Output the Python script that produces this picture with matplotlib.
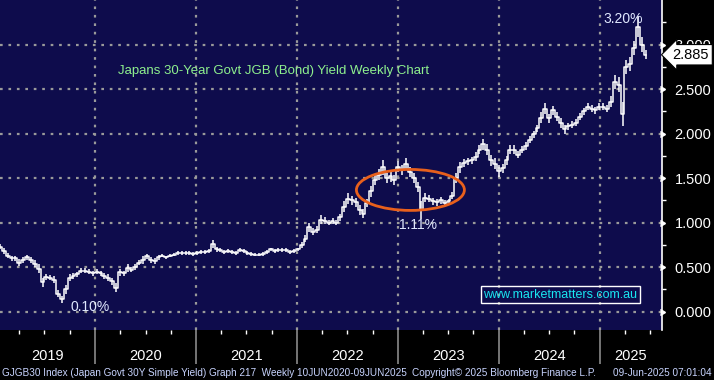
import numpy as np
import pandas as pd
import matplotlib
matplotlib.use("Agg")
import matplotlib.pyplot as plt
import matplotlib.dates as mdates
from matplotlib.patches import Ellipse
from matplotlib.transforms import blended_transform_factory

plt.rcParams["font.family"] = ["Liberation Sans", "DejaVu Sans"]

# fortnightly closes of the 30Y JGB yield
start = "2019-01-21"
yields = [
    0.73, 0.68, 0.63, 0.60, 0.60, 0.55, 0.58, 0.61, 0.58, 0.54,
    0.48, 0.33, 0.39, 0.38, 0.36, 0.20, 0.14, 0.25, 0.38, 0.40,
    0.42, 0.46, 0.46, 0.45, 0.43, 0.45, 0.43, 0.40, 0.38, 0.34,
    0.27, 0.44, 0.43, 0.49, 0.47, 0.50, 0.55, 0.58, 0.62, 0.58,
    0.57, 0.61, 0.63, 0.61, 0.63, 0.64, 0.66, 0.66, 0.66, 0.66,
    0.65, 0.66, 0.67, 0.67, 0.68, 0.76, 0.70, 0.69, 0.67, 0.68,
    0.67, 0.66, 0.69, 0.68, 0.66, 0.65, 0.64, 0.64, 0.65, 0.67,
    0.70, 0.68, 0.69, 0.69, 0.69, 0.67, 0.68, 0.70, 0.75, 0.82,
    0.95, 0.90, 0.92, 1.03, 1.02, 1.00, 1.02, 1.00, 1.06, 1.18,
    1.27, 1.25, 1.23, 1.14, 1.10, 1.22, 1.35, 1.48, 1.54, 1.62,
    1.50, 1.52, 1.48, 1.63, 1.59, 1.66, 1.57, 1.50, 1.40, 1.14,
    1.28, 1.27, 1.24, 1.23, 1.25, 1.22, 1.24, 1.30, 1.50, 1.62,
    1.67, 1.69, 1.70, 1.74, 1.82, 1.88, 1.82, 1.70, 1.66, 1.58,
    1.61, 1.70, 1.82, 1.82, 1.76, 1.82, 1.86, 1.93, 1.99, 2.06,
    2.18, 2.28, 2.17, 2.26, 2.19, 2.12, 2.05, 2.08, 2.10, 2.12,
    2.19, 2.25, 2.30, 2.28, 2.26, 2.30, 2.30, 2.28, 2.36, 2.58,
    2.55, 2.22, 2.75, 2.78, 2.96, 3.20, 3.00, 2.885,
]
# half of each bar's high-low range, in basis points
swing_bp = [
    3, 3, 3, 3, 3, 4, 3, 3, 3, 4,
    5, 5, 3, 3, 4, 4, 4, 5, 4, 3,
    3, 3, 3, 3, 3, 3, 3, 3, 4, 4,
    5, 4, 3, 4, 3, 3, 3, 4, 3, 3,
    3, 3, 2, 2, 2, 2, 2, 2, 2, 2,
    2, 2, 2, 2, 2, 4, 3, 2, 2, 2,
    2, 2, 2, 2, 2, 2, 2, 2, 2, 2,
    2, 2, 2, 2, 2, 2, 2, 2, 3, 4,
    5, 4, 4, 5, 4, 3, 3, 3, 4, 6,
    6, 5, 5, 6, 5, 5, 6, 6, 6, 8,
    6, 6, 6, 6, 6, 6, 6, 6, 6, 10,
    5, 4, 4, 4, 4, 3, 3, 4, 6, 6,
    4, 4, 4, 5, 5, 6, 6, 6, 6, 7,
    5, 5, 5, 5, 4, 4, 4, 4, 4, 4,
    6, 6, 5, 5, 5, 6, 5, 4, 4, 4,
    4, 4, 4, 4, 4, 4, 4, 4, 6, 8,
    8, 14, 8, 8, 8, 12, 8, 5,
]
dates = pd.date_range(start, periods=len(yields), freq="14D")

years = ["2019", "2020", "2021", "2022", "2023", "2024", "2025"]
yticks = [0.0, 0.5, 1.0, 1.5, 2.0, 2.5, 3.0]
last_val = 2.885

bg = "#0e0c4c"
fig = plt.figure(figsize=(7.14, 3.80), dpi=100, facecolor="black")
ax = fig.add_axes([0, 50 / 380, 662 / 714, 330 / 380], facecolor=bg)

yv = np.array(yields)
sw = np.array(swing_bp) / 100
ax.plot(dates, yv, color="white", lw=1.1, drawstyle="steps-mid", zorder=3)
ax.vlines(dates, yv - sw, yv + sw, color="white", lw=1.1, zorder=3)

x0 = pd.Timestamp("2019-01-21")
x1 = pd.Timestamp("2025-08-14")
ax.set_xlim(x0, x1)
ax.set_ylim(-0.206, 3.5)

# grid
ax.xaxis.set_major_locator(mdates.YearLocator())
ax.xaxis.set_minor_locator(mdates.MonthLocator(bymonth=[4, 7, 10]))
ax.grid(True, which="major", color="#9a9a9a", linestyle=(0, (1.2, 2.6)), lw=1.6)
ax.set_xticklabels([])
ax.tick_params(axis="x", which="major", length=24.5, width=1.2, color="#8a8a8a", direction="out")
ax.tick_params(axis="x", which="minor", length=3, width=1, color="white", direction="out")

for s in ["top", "left", "bottom"]:
    ax.spines[s].set_visible(False)
ax.spines["right"].set_color("white")
ax.spines["right"].set_linewidth(1.2)

# right axis
ax.yaxis.tick_right()
ax.set_yticks(yticks)
ax.set_yticks(np.arange(0.25, 3.5, 0.5), minor=True)
ax.set_yticklabels([f"{v:.3f}" for v in yticks], color="white", fontsize=10.5)
ax.tick_params(axis="y", which="major", length=0, pad=9)
ax.tick_params(axis="y", which="minor", length=3, width=1, color="white", direction="out")
ytr = blended_transform_factory(ax.transAxes, ax.transData)
ax.plot([1.0045] * len(yticks), yticks, marker=5, ms=5, color="white", ls="none",
        transform=ytr, clip_on=False)

# year labels centred in visible part of each year
xtr = blended_transform_factory(ax.transData, ax.transAxes)
for y in years:
    a = max(pd.Timestamp(f"{y}-01-01"), x0)
    b = min(pd.Timestamp(f"{int(y) + 1}-01-01"), x1)
    ax.text(a + (b - a) / 2, -0.078, y, transform=xtr, ha="center", va="center",
            color="white", fontsize=10.5)

# last value tag
ax.text(1.016, last_val, f"{last_val:.3f}", transform=ytr, ha="left", va="center",
        fontsize=10.5, color="black", zorder=10,
        bbox=dict(boxstyle="larrow,pad=0.22", fc="white", ec="black", lw=0.8))

# annotations
ax.text(pd.Timestamp("2025-03-26"), 3.29, "3.20%", color="#e0e8ff", fontsize=10,
        ha="center", va="center")
ax.text(pd.Timestamp("2019-12-13"), 0.053, "0.10%", color="#e0e8ff", fontsize=10,
        ha="center", va="center")
ax.text(pd.Timestamp("2023-03-14"), 0.97, "1.11%", color="#e0e8ff", fontsize=10,
        ha="center", va="center")
ax.text(pd.Timestamp("2020-03-25"), 2.70, "Japans 30-Year Govt JGB (Bond) Yield Weekly Chart",
        color="#8ef08e", fontsize=9.5, ha="left", va="center")
ax.text(pd.Timestamp("2024-08-10"), 0.19, "www.marketmatters.com.au", color="#19e6f0",
        fontsize=9, ha="center", va="center",
        bbox=dict(boxstyle="square,pad=0.2", fc="none", ec="white", lw=1))

cx = mdates.date2num(pd.Timestamp("2023-02-15"))
w = mdates.date2num(pd.Timestamp("2024-03-12")) - mdates.date2num(pd.Timestamp("2023-02-15"))
ax.add_patch(Ellipse((cx, 1.367), w, 0.46, fill=False, ec="#e8601c", lw=2, zorder=4))

# footer
fig.text(2 / 714, 1 - 373 / 380, "GJGB30 Index (Japan Govt 30Y Simple Yield) Graph 217  Weekly 10JUN2020-09JUN2025",
         color="#c8d4ff", fontsize=7.2, va="center", ha="left")
fig.text(412 / 714, 1 - 373 / 380, "Copyright\u00a9 2025 Bloomberg Finance L.P.",
         color="#c8d4ff", fontsize=7.2, va="center", ha="left")
fig.text(712 / 714, 1 - 373 / 380, "09-Jun-2025 07:01:04",
         color="#c8d4ff", fontsize=7.2, va="center", ha="right")

fig.savefig("out.png", dpi=100, facecolor="black")
